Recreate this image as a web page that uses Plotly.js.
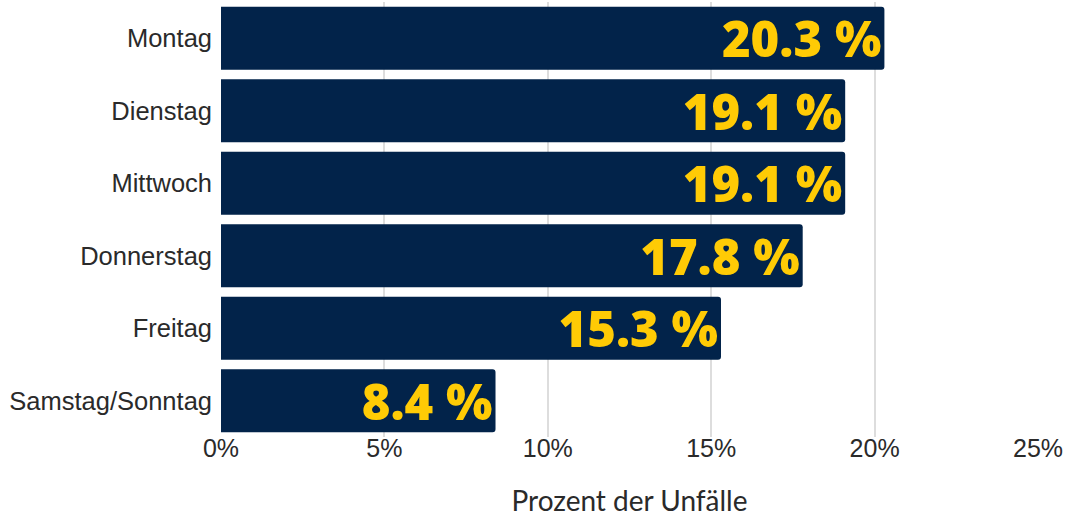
<!DOCTYPE html>
<html>
<head>
<meta charset="utf-8">
<script src="https://cdn.plot.ly/plotly-3.0.1.min.js"></script>
<style>html,body{margin:0;padding:0;background:#fff;}#chart{width:1070px;height:517px;}</style>
</head>
<body>
<div id="chart"></div>
<script>
const categories = ["Montag", "Dienstag", "Mittwoch", "Donnerstag", "Freitag", "Samstag/Sonntag"];
const values = [20.3, 19.1, 19.1, 17.8, 15.3, 8.4];
const valueLabels = values.map(v => v.toFixed(1) + " %");
const tickValues = [0, 5, 10, 15, 20, 25];
const tickLabels = ["0%", "5%", "10%", "15%", "20%", "25%"];

const trace = {
  type: "bar",
  orientation: "h",
  y: categories,
  x: values,
  text: valueLabels,
  textposition: "inside",
  insidetextanchor: "end",
  textangle: 0,
  constraintext: "none",
  cliponaxis: false,
  textfont: {family: "Open Sans", size: 49, color: "#FFCB05", weight: 800},
  marker: {color: "#02234A", cornerradius: 3, line: {width: 0}},
  hoverinfo: "none"
};

const layout = {
  width: 1070, height: 517,
  margin: {l: 221, r: 32, t: 2, b: 80, pad: 0},
  paper_bgcolor: "#fff", plot_bgcolor: "#fff",
  bargap: 0.13,
  showlegend: false,
  xaxis: {
    range: [0, 25], tickvals: tickValues, ticktext: tickLabels,
    showgrid: true, gridcolor: "#dddddd", gridwidth: 2,
    zeroline: false, showline: false, ticks: "",
    ticklabelstandoff: -6,
    tickfont: {family: "Liberation Sans, Arial, sans-serif", size: 25, color: "#2a2a2a"},
    title: {text: "Prozent der Unfälle", font: {family: "Lato", size: 28, color: "#2a2a2a"}, standoff: 31},
    fixedrange: true
  },
  yaxis: {
    autorange: "reversed", type: "category",
    showgrid: false, zeroline: false, showline: false, ticks: "",
    ticklabelstandoff: 8,
    tickfont: {family: "Liberation Sans, Arial, sans-serif", size: 25.5, color: "#2a2a2a"},
    fixedrange: true
  }
};

Plotly.newPlot("chart", [trace], layout, {displayModeBar: false, staticPlot: true});
</script>
</body>
</html>
